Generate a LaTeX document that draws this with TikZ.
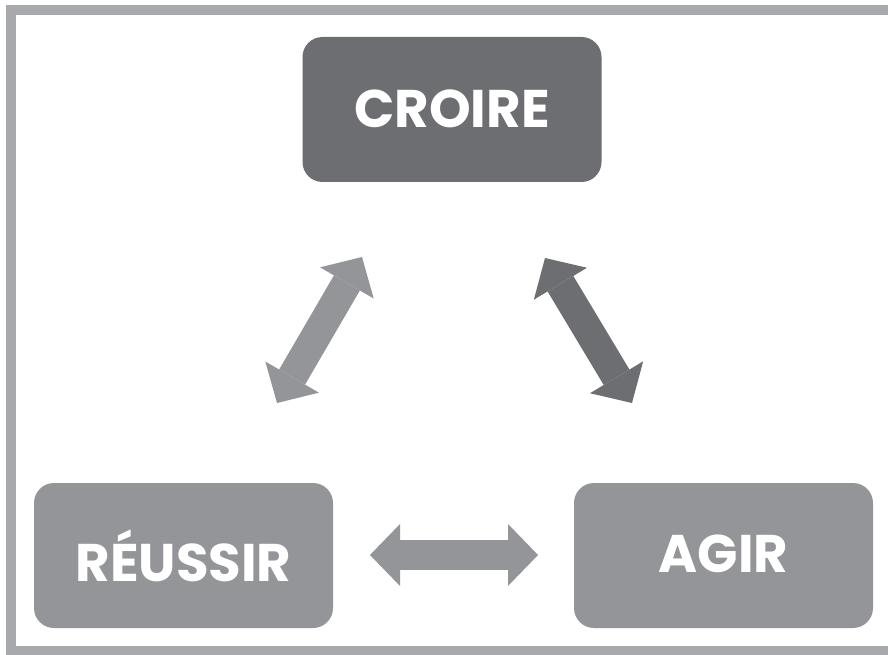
\documentclass[tikz,border=0pt]{standalone}
\usepackage{fontspec}
\setmainfont{Poppins}
\usetikzlibrary{arrows.meta}
\definecolor{darkbox}{HTML}{6D6E71}
\definecolor{lightbox}{HTML}{939598}
\definecolor{framegray}{HTML}{A7A9AC}
\tikzset{
  box/.style={draw=none, rounded corners=20pt, minimum width=299pt, minimum height=145pt,
    text=white, font=\fontsize{53}{60}\selectfont\bfseries, inner sep=0pt},
  darkfill/.style={fill=darkbox},
  lightfill/.style={fill=lightbox},
  bigarrow/.style={line width=30pt,
    {Triangle[width=62pt,length=30pt,line width=0pt 0]}-{Triangle[width=62pt,length=30pt,line width=0pt 0]}},
}
\begin{document}
\begin{tikzpicture}[x=1pt,y=-1pt]
\useasboundingbox (0,0) rectangle (888,655);
\fill[white] (0,0) rectangle (888,655);
\draw[framegray, line width=10pt] (900,10) -- (11,10) -- (11,651) -- (900,651);
\node[box,darkfill] (croire) at (452,109.5) {\raisebox{2pt}{CROIRE}};
\node[box,lightfill] (reussir) at (183.5,555.5) {\raisebox{-2pt}{RÉUSSIR}};
\node[box,lightfill] (agir) at (723.5,555.5) {\raisebox{4pt}{AGIR}};
\coordinate (l1) at (277,403);
\coordinate (l2) at (362,257);
\coordinate (r1) at (545,258);
\coordinate (r2) at (632,403);
\coordinate (h1) at (370,555);
\coordinate (h2) at (538,555);
\draw[bigarrow, lightbox] (l1) -- (l2);
\draw[bigarrow, darkbox] (r1) -- (r2);
\draw[bigarrow, lightbox] (h1) -- (h2);
\end{tikzpicture}
\end{document}
